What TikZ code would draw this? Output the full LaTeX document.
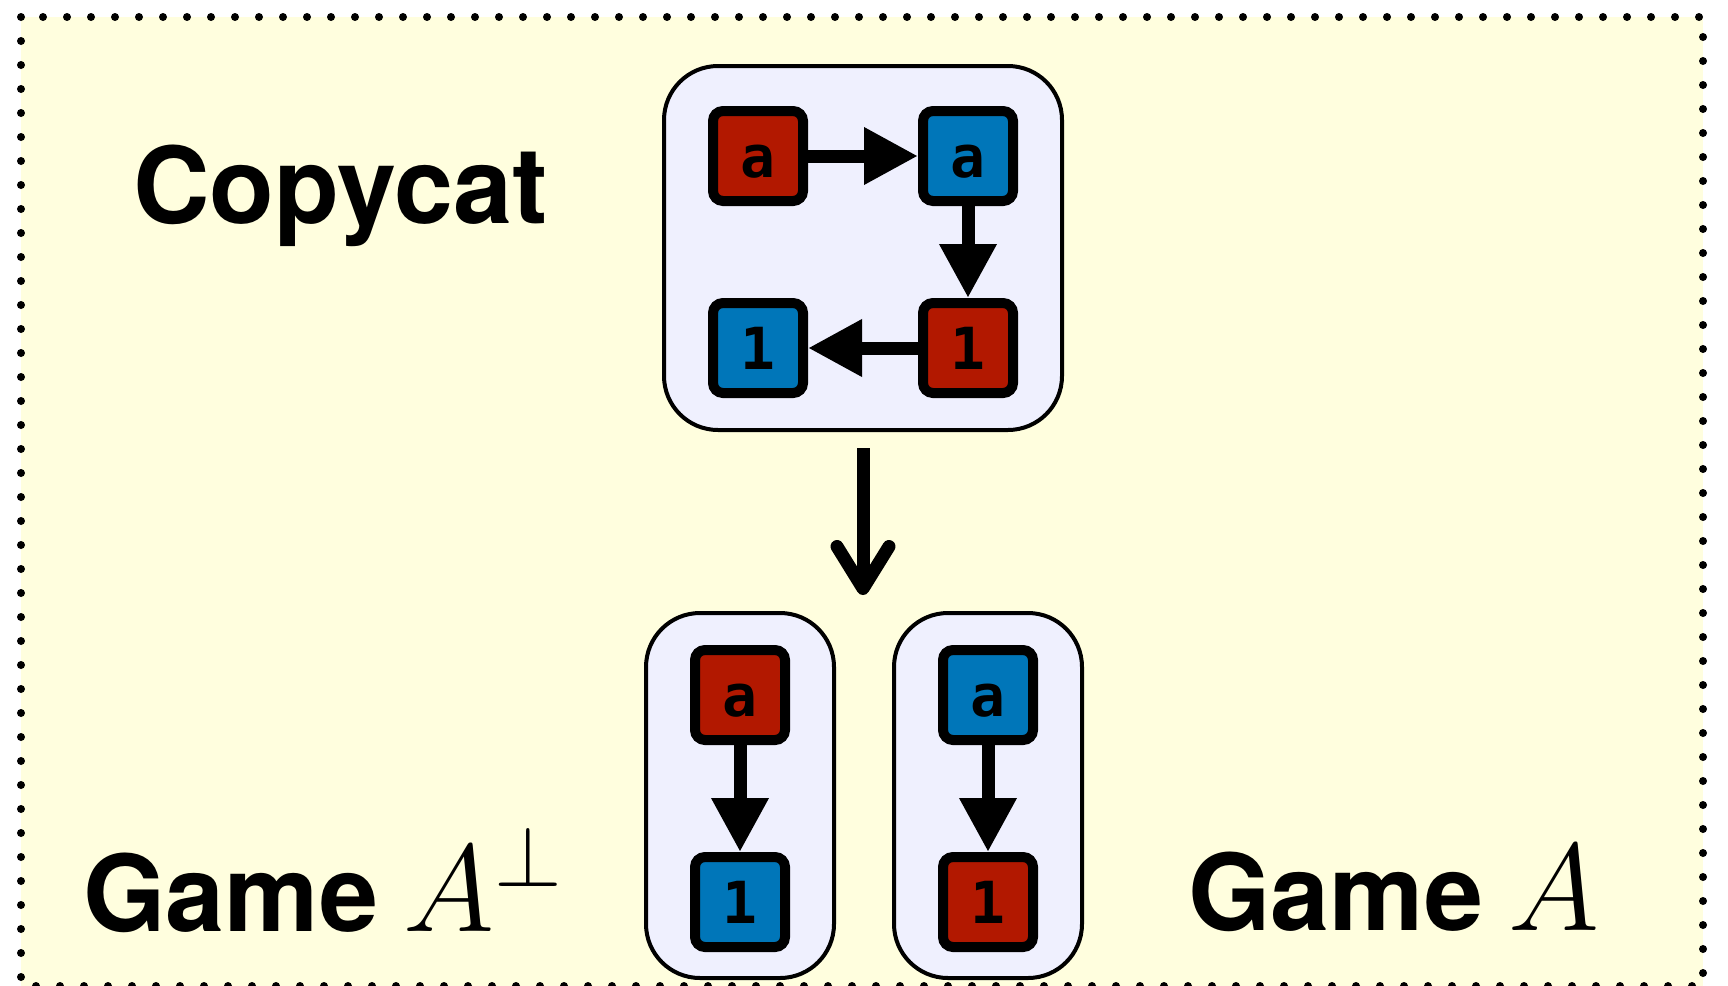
\RequirePackage{fix-cm}
\documentclass[tikz,border=0pt]{standalone}
\usepackage[no-math]{fontspec}
\setmainfont{TeX Gyre Heros}
\newfontfamily\movefont{DejaVu Sans Mono}
\usepackage{xcolor}
\usetikzlibrary{positioning}
\usetikzlibrary{fit}
\usetikzlibrary{backgrounds}
\usetikzlibrary{arrows.meta}
\definecolor{cred}{HTML}{B21800}
\definecolor{cblue}{HTML}{0076B9}
\definecolor{cground}{HTML}{FFFEDE}
\definecolor{cpanel}{HTML}{EFF0FE}
\tikzset{
  move/.style={draw, line width=5pt, rounded corners=5pt, minimum size=45pt,
    inner sep=0pt, text height=21pt, text depth=0pt,
    font=\movefont\bfseries\fontsize{29}{32}\selectfont},
  omove/.style={move, fill=cred},
  pmove/.style={move, fill=cblue},
  play/.style={line width=6.5pt, -{Triangle[length=27pt, width=27pt]}},
  maps/.style={line width=6.5pt, -{Straight Barb[length=21pt, width=26pt, round]}},
  arena/.style={draw, line width=2pt, fill=cpanel, rounded corners=27pt},
  heading/.style={inner sep=0pt, font=\fontsize{53}{60}\selectfont\bfseries},
  border/.style={line width=4pt, line cap=round, dash pattern=on 0pt off 12pt}
}
\newcommand{\mathsize}{\fontsize{62}{70}\selectfont}

\begin{document}
\begin{tikzpicture}[x=0.5pt, y=0.5pt, node distance=46pt and 55pt]
      \useasboundingbox (0,0) rectangle (1728,-985);
      \node[omove] (ca) at (758,-156) {a};
      \node[pmove, right=of ca] (cb) {a};
      \node[omove, below=of cb] (c1) {1};
      \node[pmove, left=of c1] (cd) {1};
      \node[omove] (ga) at (740,-695) {a};
      \node[pmove, below=53.5pt of ga] (g1) {1};
      \node[pmove, right=74pt of ga] (ha) {a};
      \node[omove, below=53.5pt of ha] (h1) {1};
      \node[heading, anchor=base west] (copycat) at (133,-223) {Copycat};
      \node[heading, anchor=base west] (gameperp) at (83,-931) {Game\hspace{-2pt} {\mathsize$A^\perp$}};
      \node[heading, anchor=base west] (game) at (1188,-930) {Game\hspace{-2pt} {\mathsize$A$}};
      \begin{scope}[on background layer]
        \fill[cground] (21,-17) rectangle (1703,-986);
        \draw[border] (21,-17) rectangle (1703,-986);
        \node[arena, fit=(ca)(c1), inner xsep=22pt, inner ysep=18pt, yshift=2pt] (cc) {};
        \node[arena, fit=(ga)(g1), inner xsep=22pt, inner ysep=14.5pt, yshift=1.5pt] (gl) {};
        \node[arena, fit=(ha)(h1), inner xsep=22pt, inner ysep=14.5pt, yshift=1.5pt] (gr) {};
      \end{scope}
      \draw[play] (ca) -- (cb);
      \draw[play] (cb) -- (c1);
      \draw[play] (c1) -- (cd);
      \draw[play] (ga) -- (g1);
      \draw[play] (ha) -- (h1);
      \draw[maps, shorten <=8pt, shorten >=8pt] (cc.south) -- (cc.south |- gl.north);
\end{tikzpicture}
\end{document}
